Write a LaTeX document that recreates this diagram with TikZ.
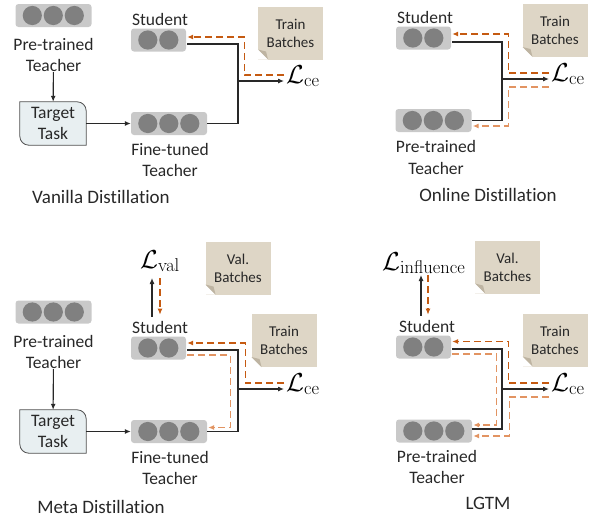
\RequirePackage{fix-cm}
\documentclass[tikz,border=0pt]{standalone}
\usepackage[no-math]{fontspec}
\setmainfont{Carlito}[Ligatures=NoCommon]
\usepackage{tikz}
\usetikzlibrary{arrows.meta, calc, backgrounds}
\usepackage{xcolor}
\definecolor{grigio}{RGB}{201,201,201}
\definecolor{pallino}{RGB}{128,128,128}
\definecolor{sabbia}{RGB}{222,214,198}
\definecolor{piega}{RGB}{190,180,162}
\definecolor{azzurrino}{RGB}{232,239,241}
\definecolor{bordo}{RGB}{80,80,80}
\definecolor{arancio}{RGB}{197,90,17}
\definecolor{arancioChiaro}{RGB}{226,148,98}
\definecolor{nero}{RGB}{40,40,40}
\DeclareMathSizes{26}{26}{18.5}{13}
\newcommand{\grande}{\fontsize{26}{30}\selectfont}
% modello: nome, posizione, numero di cerchi
\newcommand{\modello}[3]{%
  \node[blocco, minimum width={34+21*(#3-1)}] (#1) at (#2) {};
  \foreach \k in {1,...,#3}
    \fill[pallino] ($(#1.west)+({17+21*(\k-1)},0)$) circle (9.6);
}
% compito: nome, posizione
\newcommand{\compito}[2]{%
  \node[compito] (#1) at (#2) {Target\\Task};
  \begin{scope}[on background layer]
    \path[draw=bordo, fill=azzurrino, line width=0.8pt]
      (#1.north) [rounded corners=9] -- (#1.north east) -- (#1.east)
      [sharp corners] -- (#1.south east) -- (#1.south)
      [rounded corners=9] -- (#1.south west) -- (#1.west)
      [sharp corners] -- (#1.north west) -- cycle;
  \end{scope}
}

\begin{document}
\begin{tikzpicture}[x=1pt, y=-1pt,
    etichetta/.style={font=\fontsize{17.5}{21.5}\selectfont, align=center, inner sep=0, text=nero},
    didascalia/.style={font=\fontsize{19}{23}\selectfont, inner sep=0, text=nero},
    blocco/.style={fill=grigio, rounded corners=3pt, minimum height=23, inner sep=0},
    compito/.style={etichetta, minimum width=66, minimum height=43},
    nota/.style={fill=sabbia, align=center, font=\fontsize{15}{18}\selectfont, text=nero,
      minimum width=65, minimum height=53, inner sep=0,
      path picture={
        \fill[white] (path picture bounding box.south west) -- ++(10,0) -- ++(-10,-10) -- cycle;
        \fill[piega] ($(path picture bounding box.south west)+(10,0)$) -- ++(-10,-10) -- ++(8,2) -- cycle;
      }},
    perdita/.style={font=\grande, inner sep=0, anchor=base west},
    filo/.style={draw=nero, line width=1.1pt},
    freccia/.style={filo, -{Latex[length=6pt,width=5pt]}},
    tratto/.style={draw=arancio, line width=1.1pt, dash pattern=on 7pt off 4pt, -{Latex[length=6pt,width=5pt]}},
    tratto chiaro/.style={tratto, draw=arancioChiaro}]
    % Parametri
    \pgfmathsetmacro{\dx}{265}
    \pgfmathsetmacro{\dy}{308}
    \useasboundingbox (0,0) rectangle (597,517);

    % Vanilla Distillation
    \modello{pt1}{53.5,15.5}{3}
    \node[etichetta] (pt1l) at (53.5,55) {Pre-trained\\Teacher};
    \compito{tt1}{53,123.5}
    \modello{ft1}{169,123.5}{3}
    \node[etichetta] (ft1l) at (170,160) {Fine-tuned\\Teacher};
    \modello{st1}{158.5,40}{2}
    \node[etichetta] (st1l) at (160,19) {Student};
    \node[nota] (tb1) at (290.5,33) {Train\\Batches};
    \node[perdita] (lce1) at (286,83) {$\mathcal{L}_{\mathrm{ce}}$};
    \coordinate (j1) at (238,81);
    \draw[freccia] (pt1l) -- (tt1);
    \draw[freccia] (tt1) -- (ft1);
    \draw[filo] ($(st1.east)+(1,4)$) -| (j1) |- (ft1.east);
    \draw[freccia] (j1) -- ($(lce1.base west)+(-2,-2)$);
    \draw[tratto] ($(lce1.base west)+(-2,-8)$) -| ($(st1.east)+(58,-3)$) -- ($(st1.east)+(1,-3)$);
    \node[didascalia] (cap1) at (101,197) {Vanilla Distillation};

    \begin{scope}[shift={(\dx,-2)}]
        % Online Distillation
        \modello{st2}{158.5,40}{2}
        \node[etichetta] (st2l) at (160,19) {Student};
        \modello{pt2}{168.5,122.5}{3}
        \node[etichetta] (pt2l) at (171,159.5) {Pre-trained\\Teacher};
        \node[nota] (tb2) at (290,32.5) {Train\\Batches};
        \node[perdita] (lce2) at (286,83) {$\mathcal{L}_{\mathrm{ce}}$};
        \coordinate (j2) at (237,81);
        \draw[filo] ($(st2.east)+(1,4)$) -| (j2) |- (pt2.east);
        \draw[freccia] (j2) -- ($(lce2.base west)+(-2,-2)$);
        \draw[tratto] ($(lce2.base west)+(-2,-8)$) -| ($(st2.east)+(57,-4)$) -- ($(st2.east)+(1,-4)$);
        \draw[tratto chiaro] ($(lce2.base west)+(-2,6)$) -| ($(pt2.east)+(36.5,5.5)$) -- ($(pt2.east)+(1,5.5)$);
        \node[didascalia] (cap2) at (223,197) {Online Distillation};
    \end{scope}

    \begin{scope}[shift={(0,\dy)}]
        % Meta Distillation
        \modello{pt3}{53.5,4}{3}
        \node[etichetta] (pt3l) at (53.5,44) {Pre-trained\\Teacher};
        \compito{tt3}{53,123.5}
        \modello{ft3}{169,123.5}{3}
        \node[etichetta] (ft3l) at (170,160) {Fine-tuned\\Teacher};
        \modello{st3}{158.5,40}{2}
        \node[etichetta] (st3l) at (160,19) {Student};
        \node[perdita] (lval) at (140,-40) {$\mathcal{L}_{\mathrm{val}}$};
        \node[nota] (vb3) at (238,-40) {Val.\\Batches};
        \node[nota] (tb3) at (284,32.5) {Train\\Batches};
        \node[perdita] (lce3) at (286,83) {$\mathcal{L}_{\mathrm{ce}}$};
        \coordinate (j3) at (238,81);
        \draw[freccia] (pt3l) -- (tt3);
        \draw[freccia] (tt3) -- (ft3);
        \draw[freccia] ($(st3l.north)+(-8,-4)$) -- ($(lval.base west)+(12,10)$);
        \draw[tratto] ($(lval.base west)+(20,10)$) -- ($(st3l.north)+(0,-6)$);
        \draw[filo] ($(st3.east)+(1,2)$) -| (j3) |- (ft3.east);
        \draw[freccia] (j3) -- ($(lce3.base west)+(-2,-2)$);
        \draw[tratto] ($(lce3.base west)+(-2,-8)$) -| ($(st3.east)+(59,-5)$) -- ($(st3.east)+(1,-5)$);
        \draw[tratto chiaro] ($(st3.east)+(1,7)$) -| ($(ft3.east)+(23,-4)$) -- ($(ft3.east)+(1,-4)$);
        \node[didascalia] (cap3) at (101,199) {Meta Distillation};
    \end{scope}

    \begin{scope}[shift={(\dx,\dy)}]
        % LGTM
        \modello{st4}{158.5,39}{2}
        \node[etichetta] (st4l) at (162,18) {Student};
        \modello{pt4}{169,123}{3}
        \node[etichetta] (pt4l) at (172,159) {Pre-trained\\Teacher};
        \node[perdita] (linf) at (117,-38) {$\mathcal{L}_{\mathrm{influence}}$};
        \node[nota] (vb4) at (242.5,-41) {Val.\\Batches};
        \node[nota] (tb4) at (290,32) {Train\\Batches};
        \node[perdita] (lce4) at (286,83) {$\mathcal{L}_{\mathrm{ce}}$};
        \coordinate (j4) at (237,81);
        \draw[freccia] ($(st4l.north)+(-6,-4)$) -- ($(linf.base west)+(39,5)$);
        \draw[tratto] ($(linf.base west)+(46,5)$) -- ($(st4l.north)+(1,-5)$);
        \draw[filo] ($(st4.east)+(1,2)$) -| (j4) |- ($(pt4.east)+(0,-2)$);
        \draw[freccia] (j4) -- ($(lce4.base west)+(-2,-2)$);
        \draw[tratto] ($(lce4.base west)+(-2,-8)$) -| ($(st4.east)+(57,-5.5)$) -- ($(st4.east)+(1,-5.5)$);
        \draw[tratto chiaro] ($(st4.east)+(1,7)$) -| ($(pt4.east)+(24,-6)$) -- ($(pt4.east)+(1,-6)$);
        \draw[tratto chiaro] ($(lce4.base west)+(-2,6)$) -| ($(pt4.east)+(37,5)$) -- ($(pt4.east)+(1,5)$);
        \node[didascalia] (cap4) at (223,195) {LGTM};
    \end{scope}
\end{tikzpicture}
\end{document}
